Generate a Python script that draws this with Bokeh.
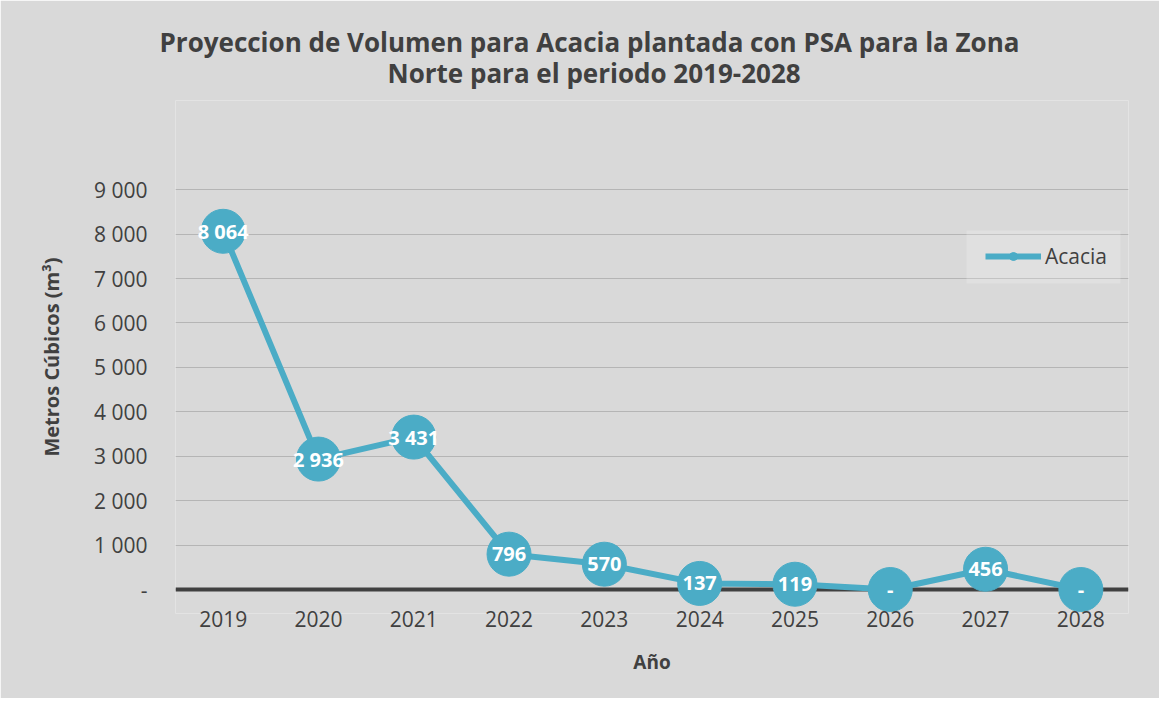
from bokeh.plotting import figure
from bokeh.models import (ColumnDataSource, FixedTicker, Range1d, FactorRange, Span,
                          Title, Legend, LegendItem, BoxAnnotation)
from bokeh.core.properties import value
from bokeh.embed import file_html
from bokeh.resources import INLINE

# ---- data ----
years = ["2019", "2020", "2021", "2022", "2023", "2024", "2025", "2026", "2027", "2028"]
volumes = [8064, 2936, 3431, 796, 570, 137, 119, 0, 456, 0]
point_labels = ["8 064", "2 936", "3 431", "796", "570", "137", "119", "-", "456", "-"]
y_ticks = [0, 1000, 2000, 3000, 4000, 5000, 6000, 7000, 8000, 9000]
y_tick_labels = ["-", "1 000", "2 000", "3 000", "4 000", "5 000", "6 000", "7 000", "8 000", "9 000"]
series_name = "Acacia"
title_lines = ["Proyeccion de Volumen para Acacia plantada con PSA para la Zona",
               "Norte para el periodo 2019-2028"]

BG = "#d9d9d9"
TXT = "#404040"
SER = "#4bacc6"
FONT = "Open Sans"

# ---- layout geometry (pixels) ----
W, H = 1159, 698
TOP, BOTTOM, LEFT, RIGHT = 100, 85, 175, 31
K = 0.044422                   # px per data unit on y
Y0 = -540
frame_h = H - TOP - BOTTOM
Y1 = Y0 + frame_h / K
zero_px = H - BOTTOM - (0 - Y0) * K   # canvas y of value 0
CAT_W = (W - LEFT - RIGHT) / len(years)


def y_at(px):
    return (zero_px - px) / K


def x_at(px):
    return (px - LEFT) / CAT_W


src = ColumnDataSource(dict(x=years, y=volumes, lab=point_labels))

p = figure(width=W, height=H, output_backend="svg", toolbar_location=None,
           x_range=FactorRange(*years, range_padding=0),
           y_range=Range1d(Y0, Y1),
           min_border_left=LEFT, min_border_right=RIGHT, min_border_top=TOP, min_border_bottom=BOTTOM)
p.background_fill_color = BG
p.border_fill_color = BG
p.outline_line_color = None

# title: second line first (closest to the plot), then first line above it
for line, off, so in [(title_lines[1], 212, 20), (title_lines[0], -16, -34)]:
    p.add_layout(Title(text=line, align="left", offset=off, standoff=so,
                       text_font=FONT, text_font_size="26px", text_font_style="bold",
                       text_color=TXT), "above")

# grid
p.xgrid.grid_line_color = None
p.ygrid.grid_line_color = "#b5b5b5"
p.ygrid.grid_line_width = 1

# y axis
p.yaxis.ticker = FixedTicker(ticks=y_ticks)
p.yaxis.major_label_overrides = {tk: lb for tk, lb in zip(y_ticks, y_tick_labels)}
p.yaxis.axis_line_color = None
p.yaxis.major_tick_line_color = None
p.yaxis.minor_tick_line_color = None
p.yaxis.major_label_standoff = 22
p.yaxis.major_label_text_font = FONT
p.yaxis.major_label_text_font_size = "21px"
p.yaxis.major_label_text_color = TXT
p.yaxis.axis_label = "Metros Cúbicos (m³)"
p.yaxis.axis_label_text_font = FONT
p.yaxis.axis_label_text_font_size = "20px"
p.yaxis.axis_label_text_font_style = "bold"
p.yaxis.axis_label_text_color = TXT
p.yaxis.axis_label_standoff = 26

# x axis
p.xaxis.axis_line_color = None
p.xaxis.major_tick_line_color = None
p.xaxis.minor_tick_line_color = None
p.xaxis.major_label_standoff = -9
p.xaxis.major_label_text_font = FONT
p.xaxis.major_label_text_font_size = "21px"
p.xaxis.major_label_text_color = TXT
p.xaxis.axis_label = "Año"
p.xaxis.axis_label_text_font = FONT
p.xaxis.axis_label_text_font_size = "19px"
p.xaxis.axis_label_text_font_style = "bold"
p.xaxis.axis_label_text_color = TXT
p.xaxis.axis_label_standoff = 19

# zero baseline (beneath the markers)
p.add_layout(Span(location=0, dimension="width", line_color=TXT, line_width=4, level="underlay"))

# legend background box
p.add_layout(BoxAnnotation(left=x_at(966), right=x_at(1120), top=y_at(230), bottom=y_at(283),
                           fill_color="white", fill_alpha=0.2, line_color=None, level="underlay"))

# series
ln = p.line("x", "y", source=src, line_color=SER, line_width=6)
mk = p.scatter("x", "y", source=src, size=44, fill_color=SER, line_color=SER)
p.text("x", "y", text="lab", source=src, text_align="center", text_baseline="middle",
       text_color="white", text_font=value(FONT), text_font_size="20px", text_font_style="bold")

legend = Legend(items=[LegendItem(label=series_name, renderers=[ln, mk])],
                location=(810, 343), margin=0, padding=0, glyph_width=56, glyph_height=20,
                label_standoff=4, label_text_font=FONT, label_text_font_size="21px",
                label_text_color=TXT, background_fill_alpha=0,
                border_line_color=None, spacing=0)
p.add_layout(legend, "center")

open("out.html", "w").write(file_html(p, INLINE))
